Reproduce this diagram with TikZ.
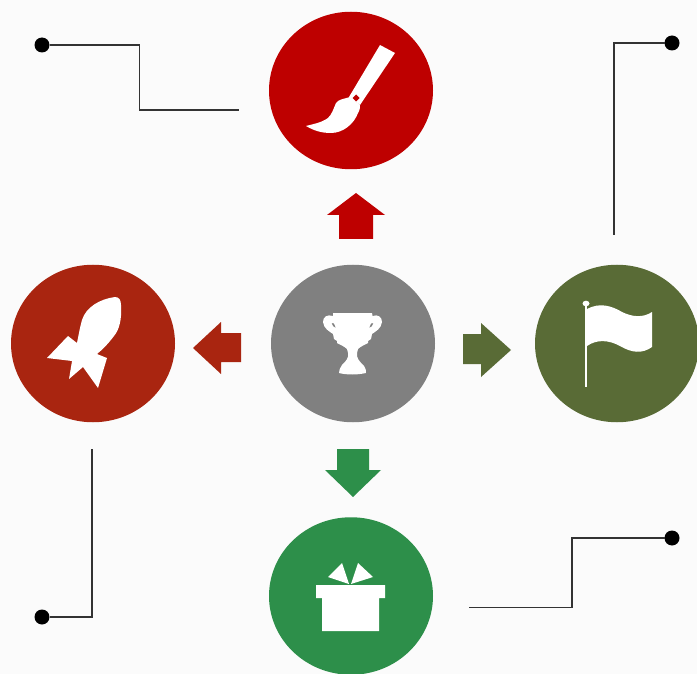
\documentclass[tikz,border=0pt]{standalone}
\usetikzlibrary{shapes.geometric}
\definecolor{bgc}{HTML}{FBFBFB}
\definecolor{cred}{HTML}{BE0000}
\definecolor{crust}{HTML}{A92510}
\definecolor{cgray}{HTML}{808080}
\definecolor{colive}{HTML}{596B36}
\definecolor{cgreen}{HTML}{2D8F4A}
\definecolor{cline}{HTML}{333333}
\tikzset{
  disc/.style={ellipse,inner sep=0pt,outer sep=0pt,minimum width=164pt,minimum height=157.5pt,fill=#1},
  dotend/.style={circle,inner sep=0pt,outer sep=0pt,minimum size=15pt,fill=black},
  leader/.style={draw=cline,line width=1.6pt,line join=miter},
  icon/.style={fill=white,draw=none},
  blockarrow/.style={fill=#1,draw=none}
}
\begin{document}
\begin{tikzpicture}[x=1pt,y=-1pt]
\path[use as bounding box,fill=bgc] (0,0) rectangle (697,674);
% discs
\node[disc=cred]   (top)    at (351,90.5) {};
\node[disc=crust]  (left)   at (93,343.5) {};
\node[disc=cgray]  (centre) at (353,343.5) {};
\node[disc=colive] (right)  at (617,343.5) {};
\node[disc=cgreen] (bottom) at (351,596) {};
% block arrows
\fill[blockarrow=cred]  (356,193) -- (385,215) -- (373,215) -- (373,239) -- (339,239) -- (339,215) -- (327,215) -- cycle;
\fill[blockarrow=crust] (193,348) -- (221,322) -- (221,333) -- (241,333) -- (241,362) -- (221,362) -- (221,374) -- cycle;
\fill[blockarrow=colive] (511,350) -- (481,323) -- (481,334) -- (463,334) -- (463,364) -- (481,364) -- (481,377) -- cycle;
\fill[blockarrow=cgreen] (353,497) -- (381,470) -- (369,470) -- (369,449) -- (337,449) -- (337,470) -- (325,470) -- cycle;
% leader lines
\node[dotend] (dtl) at (42,45) {};
\node[dotend] (dtr) at (672,43) {};
\node[dotend] (dbl) at (42,617) {};
\node[dotend] (dbr) at (672,538) {};
\coordinate (etl) at (239,110);
\coordinate (etr) at (614,235);
\coordinate (ebl) at (92,449);
\coordinate (ebr) at (469,607.5);
\draw[leader] (dtl) -- (139.5,45) -- (139.5,110) -- (etl);
\draw[leader] (dtr) -- (614,43) -- (etr);
\draw[leader] (dbl) -- (92,617) -- (ebl);
\draw[leader] (dbr) -- (572,538) -- (572,607.5) -- (ebr);
% brush
\fill[icon] (380,45) -- (395,53) -- (360,105) -- (349,97) -- cycle;
\fill[icon] (350,97) .. controls (344,99) and (339,99) .. (336,103)
  .. controls (333,110) and (332,114) .. (328,118)
  .. controls (321,123) and (313,124) .. (306,126)
  .. controls (313,130) and (320,133) .. (331,133)
  .. controls (343,133) and (354,124) .. (358,113)
  .. controls (360,110) and (360,107) .. (360,105) -- cycle;
\fill[cred] (356,94.5) -- (359.5,98) -- (356,101.5) -- (352.5,98) -- cycle;
% rocket
\fill[icon] (115,297) .. controls (119,297) and (121,300) .. (121,305)
  .. controls (122,320) and (119,330) .. (114,336)
  .. controls (108,344) and (102,350) .. (97,354)
  -- (107,358) -- (98,388) -- (83,367) -- (69,379) -- (72,361) -- (47,358) -- (68,336) -- (77,343)
  .. controls (79,333) and (80,327) .. (82,320)
  .. controls (86,307) and (100,299) .. (115,297) -- cycle;
% trophy
\fill[icon,even odd rule] (333,313) -- (372,313) -- (372.5,316)
  .. controls (378,314) and (382,317) .. (382,322)
  .. controls (381,329) and (376,331) .. (372,334)
  -- (371,339) -- (368,341) -- (368,343)
  .. controls (364,345) and (360,347) .. (358,349)
  -- (357,353) .. controls (356,358) and (360,362) .. (364,366)
  .. controls (366,369) and (366,371) .. (366,373)
  .. controls (357,375) and (347,375) .. (339,373)
  .. controls (339,370) and (340,368) .. (342,365)
  .. controls (346,361) and (349,358) .. (348,353)
  -- (347,349) .. controls (345,347) and (341,345) .. (337,343)
  -- (337,341) -- (334,339) -- (333,334)
  .. controls (329,331) and (324,329) .. (323,322)
  .. controls (323,317) and (327,314) .. (333,316) -- cycle
  (331.5,323) -- (334,323.5) -- (336,328) .. controls (333.5,327.5) and (332,325.5) .. (331.5,323) -- cycle
  (373.5,323) -- (371,323.5) -- (369,328) .. controls (371.5,327.5) and (373,325.5) .. (373.5,323) -- cycle;
% flag
\fill[icon] (585,305) rectangle (587,387);
\fill[icon] (586,303.5) ellipse (3.5 and 2.8);
\fill[icon] (587,309) .. controls (600,302) and (612,306) .. (622,312)
  .. controls (632,317) and (643,318) .. (652,312)
  -- (652,347) .. controls (642,354) and (632,353) .. (620,346)
  .. controls (609,340) and (597,339) .. (587,346) -- cycle;
% gift
\fill[icon] (316,585) -- (385,585) -- (385,598) -- (379,598) -- (379,631) -- (322,631) -- (322,598) -- (316,598) -- cycle;
\fill[icon] (349,584) -- (328,577) -- (342,563) -- cycle;
\fill[icon] (351,584) -- (358,563) -- (373,577) -- cycle;
\end{tikzpicture}
\end{document}
